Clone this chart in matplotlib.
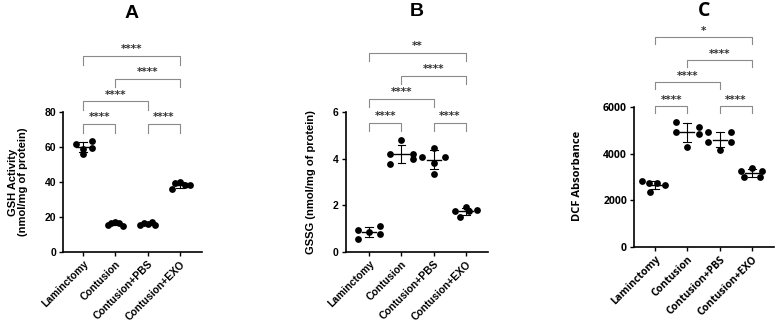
import numpy as np
import matplotlib
matplotlib.use("Agg")
import matplotlib.pyplot as plt

categories = ["Laminctomy", "Contusion", "Contusion+PBS", "Contusion+EXO"]

# Panel A: GSH activity
gsh_lam = [61.7, 58.9, 56.0, 63.4, 59.4]
gsh_con = [15.3, 16.5, 17.2, 16.4, 15.1]
gsh_pbs = [15.6, 16.8, 16.2, 16.9, 15.2]
gsh_exo = [35.8, 39.3, 40.0, 38.2, 38.2]

# Panel B: GSSG
gssg_lam = [0.55, 0.95, 0.85, 0.78, 1.12]
gssg_con = [3.77, 4.20, 4.80, 4.20, 3.99]
gssg_pbs = [4.09, 3.80, 4.44, 3.34, 4.09]
gssg_exo = [1.77, 1.48, 1.92, 1.78, 1.77]

# Panel C: DCF absorbance
dcf_lam = [2830, 2730, 2340, 2730, 2640]
dcf_con = [4930, 5360, 4300, 5140, 4830]
dcf_pbs = [4500, 4930, 4140, 4930, 4500]
dcf_exo = [3000, 3260, 3400, 3000, 3260]

# significance comparisons: (group i, group j, label)
sig_A = [(0, 1, "****"), (2, 3, "****"), (0, 2, "****"), (1, 3, "****"), (0, 3, "****")]
sig_B = [(0, 1, "****"), (2, 3, "****"), (0, 2, "****"), (1, 3, "****"), (0, 3, "**")]
sig_C = [(0, 1, "****"), (2, 3, "****"), (0, 2, "****"), (1, 3, "****"), (0, 3, "*")]

# horizontal jitter pattern for the 5 points of each group
offsets_A = [[-0.23, 0.0, 0.0, 0.27, 0.27],
             [-0.24, -0.12, 0.0, 0.12, 0.24],
             [-0.24, -0.12, 0.0, 0.12, 0.24],
             [-0.24, -0.15, 0.0, 0.15, 0.30]]
offsets_B = [[-0.35, -0.35, 0.0, 0.35, 0.35],
             [-0.35, -0.35, 0.0, 0.35, 0.35],
             [-0.35, 0.0, 0.0, 0.0, 0.35],
             [-0.35, -0.2, 0.0, 0.35, 0.1]]
offsets_C = [[-0.4, -0.2, -0.15, 0.05, 0.3],
             [-0.35, -0.35, 0.0, 0.35, 0.35],
             [-0.35, 0.35, 0.0, -0.35, 0.35],
             [-0.25, -0.35, 0.0, 0.25, 0.3]]

W, H = 776, 324
fig = plt.figure(figsize=(W / 100, H / 100), dpi=100)


def px_axes(left, right, top, bottom):
    return fig.add_axes([left / W, 1 - bottom / H, (right - left) / W, (bottom - top) / H])


def panel(ax, groups, offsets, sigs, ymax_axis, yticks, ylim_top, xlim, font, bracket_levels, drop):
    for i, vals in enumerate(groups):
        vals = np.array(vals, dtype=float)
        xs = i + np.array(offsets[i])
        ax.scatter(xs, vals, s=24, color="black", zorder=3, linewidths=0)
        m, sd = vals.mean(), vals.std(ddof=1)
        ax.plot([i - 0.22, i + 0.22], [m, m], color="black", lw=1.0, zorder=2)
        ax.plot([i, i], [m - sd, m + sd], color="black", lw=0.8, zorder=2)
        for yy in (m - sd, m + sd):
            ax.plot([i - 0.12, i + 0.12], [yy, yy], color="black", lw=0.8, zorder=2)
    for (a, b, lab), lvl in zip(sigs, bracket_levels):
        ax.plot([a, a, b, b], [lvl - drop, lvl, lvl, lvl - drop], color="#8a8a8a", lw=0.8,
                clip_on=False)
        ax.text((a + b) / 2, lvl + drop * 0.2, lab, ha="center", va="bottom",
                fontsize=7.5, color="#333333", fontweight="bold", family=["DejaVu Sans"])
    ax.set_xlim(*xlim)
    ax.set_ylim(0, ylim_top)
    ax.spines["top"].set_visible(False)
    ax.spines["right"].set_visible(False)
    ax.spines["left"].set_bounds(0, ymax_axis)
    ax.spines["left"].set_linewidth(1.2)
    ax.spines["bottom"].set_linewidth(1.2)
    ax.set_yticks(yticks)
    ax.set_yticklabels([str(t) for t in yticks], fontsize=7.5, fontweight="bold", family=font)
    ax.set_xticks(range(len(categories)))
    ax.set_xticklabels(categories, rotation=45, ha="right", va="top", rotation_mode="anchor",
                       fontsize=7.5, fontweight="bold", family=font)
    ax.tick_params(axis="both", length=3, width=1.0, pad=2)
    ax.patch.set_alpha(0)


fontAB = ["Liberation Sans", "DejaVu Sans"]
fontC = ["Open Sans", "DejaVu Sans"]

# Panel A
axA = px_axes(63, 202, 30, 252)
scaleA = 80 / 140.0
panel(axA, [gsh_lam, gsh_con, gsh_pbs, gsh_exo], offsets_A, sig_A, 80, [0, 20, 40, 60, 80],
      222 * scaleA, (-0.62, 3.68), fontAB, [73, 73, 86, 99, 112], 5)
fig.text(132 / W, 1 - 13 / H, "A", ha="center", va="center", fontsize=14, fontweight="bold",
         family=fontAB)
fig.text(18 / W, 1 - 182 / H, "GSH Activity\n(nmol/mg of protein)", ha="center", va="center",
         rotation=90, fontsize=8, fontweight="bold", family=fontAB, linespacing=1.1)

# Panel B
axB = px_axes(345.5, 488, 30, 252)
scaleB = 6 / 140.0
panel(axB, [gssg_lam, gssg_con, gssg_pbs, gssg_exo], offsets_B, sig_B, 6, [0, 2, 4, 6],
      222 * scaleB, (-0.73, 3.68), fontAB, [5.53, 5.53, 6.56, 7.54, 8.53], 0.36)
fig.text(417 / W, 1 - 11 / H, "B", ha="center", va="center", fontsize=14, fontweight="bold",
         family=fontAB)
fig.text(311 / W, 1 - 182 / H, "GSSG (nmol/mg of protein)", ha="center", va="center",
         rotation=90, fontsize=8, fontweight="bold", family=fontAB)

# Panel C
axC = px_axes(634, 774, 30, 247)
scaleC = 6000 / 140.0
panel(axC, [dcf_lam, dcf_con, dcf_pbs, dcf_exo], offsets_C, sig_C, 6000, [0, 2000, 4000, 6000],
      217 * scaleC, (-0.65, 3.68), fontC, [6030, 6030, 7070, 8010, 9000], 300)
fig.text(704 / W, 1 - 11 / H, "C", ha="center", va="center", fontsize=14, fontweight="bold",
         family=fontC)
fig.text(578 / W, 1 - 176 / H, "DCF Absorbance", ha="center", va="center",
         rotation=90, fontsize=8, fontweight="bold", family=fontC)

fig.savefig("out.png", dpi=100)
